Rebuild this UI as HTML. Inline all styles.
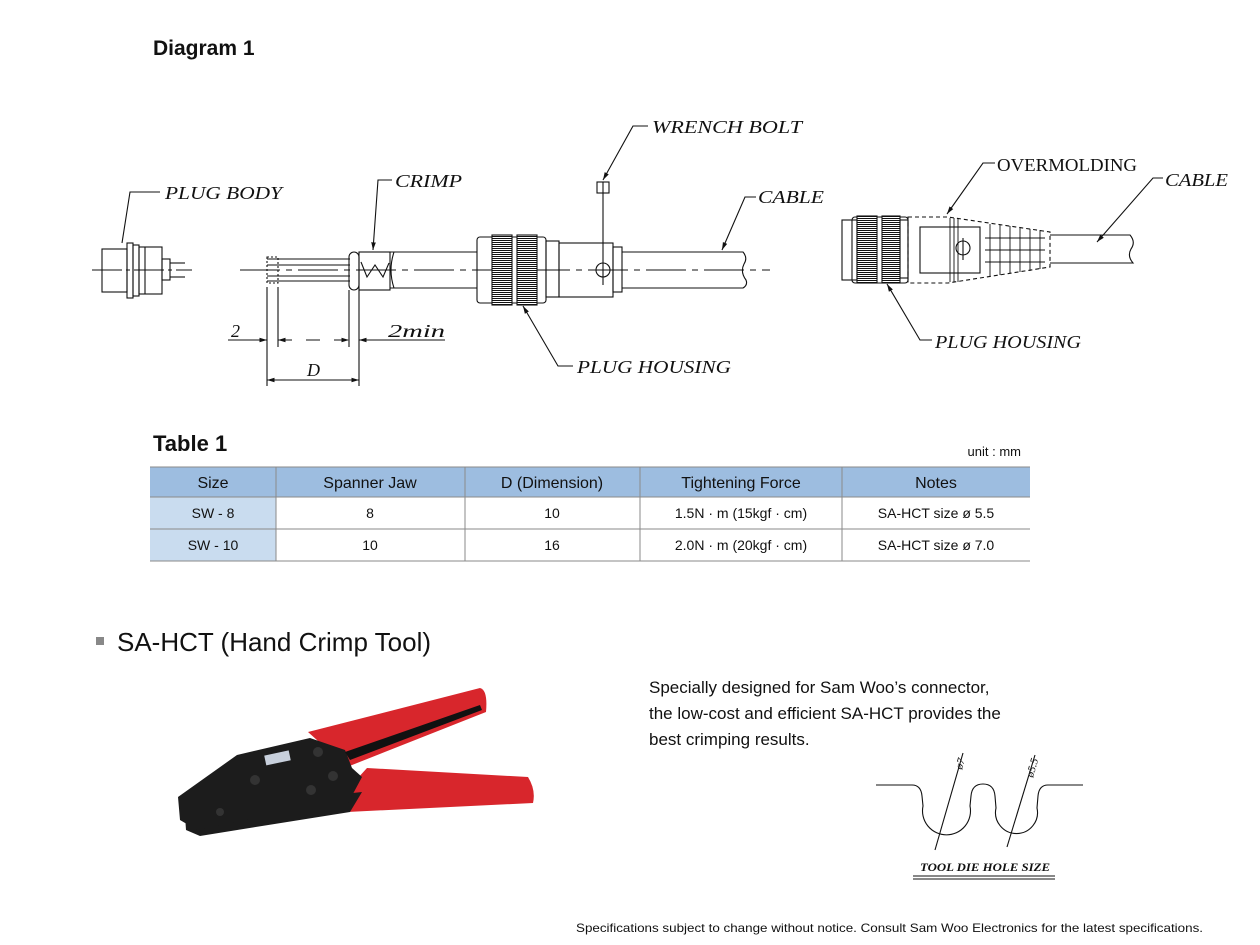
<!DOCTYPE html>
<html><head><meta charset="utf-8"><style>
html,body{margin:0;padding:0;background:#fff}
svg{display:block}
.lb{font-family:"Liberation Serif",serif;font-style:italic;font-size:18px;fill:#111}
.s{font-family:"Liberation Sans",sans-serif;fill:#111}
</style></head><body>
<svg width="1260" height="945" viewBox="0 0 1260 945" xmlns="http://www.w3.org/2000/svg">
<defs>
<marker id="ar" viewBox="0 0 10 10" refX="10" refY="5" markerWidth="7" markerHeight="7" orient="auto-start-reverse"><path d="M0,2 L10,5 L0,8z" fill="#111"/></marker>
<pattern id="kn" width="20" height="2" patternUnits="userSpaceOnUse"><rect width="20" height="2" fill="#fff"/><rect width="20" height="1" fill="#111"/></pattern>
</defs>
<text x="153" y="55" class="s" font-size="21" font-weight="bold">Diagram 1</text>

<g stroke="#111" stroke-width="1.1" fill="none">
<line x1="92" y1="270" x2="192" y2="270" stroke-dasharray="30,4,4,4"/>
<rect x="102" y="249" width="25" height="43"/>
<rect x="127" y="243" width="6" height="55"/>
<rect x="133" y="245" width="6" height="51"/>
<rect x="139" y="247" width="23" height="47"/>
<line x1="145" y1="247" x2="145" y2="294"/>
<rect x="162" y="259" width="8" height="21"/>
<line x1="170" y1="263" x2="185" y2="263"/><line x1="170" y1="277" x2="185" y2="277"/>
<polyline points="122,243 130,192 160,192"/>
<line x1="240" y1="270" x2="770" y2="270" stroke-dasharray="40,6,6,6"/>
<line x1="267" y1="259" x2="350" y2="259"/><line x1="267" y1="265" x2="350" y2="265"/><line x1="267" y1="276" x2="350" y2="276"/><line x1="267" y1="281" x2="350" y2="281"/>
<rect x="267" y="257" width="11" height="26" stroke-dasharray="2,2"/>
<rect x="349" y="252" width="10" height="38" rx="5"/>
<rect x="359" y="252" width="31" height="38"/>
<polyline points="361,262 367,277 375,265 383,277 389,263"/>
<path d="M390,252 H477 M390,288 H477 M394,252 Q388,270 394,288"/>
<rect x="477" y="237" width="69" height="66" rx="3"/>
<rect x="492" y="235" width="20" height="70" fill="url(#kn)"/>
<rect x="517" y="235" width="20" height="70" fill="url(#kn)"/>
<rect x="546" y="241" width="13" height="56"/>
<rect x="559" y="243" width="54" height="54"/>
<circle cx="603" cy="270" r="7"/>
<rect x="613" y="247" width="9" height="45"/>
<path d="M622,252 H743 Q748,258 744,264 Q740,272 746,280 Q748,285 743,288 H622"/>
<rect x="597" y="182" width="12" height="11"/><line x1="603" y1="182" x2="603" y2="193"/>
<line x1="603" y1="193" x2="603" y2="285"/>
<polyline points="603,180 633,126 648,126" marker-start="url(#ar)"/>
<polyline points="722,250 745,197 756,197" marker-start="url(#ar)"/>
<polyline points="373,250 378,180 392,180" marker-start="url(#ar)"/>
<polyline points="523,306 558,366 573,366" marker-start="url(#ar)"/>
<line x1="267" y1="287" x2="267" y2="386"/><line x1="278" y1="287" x2="278" y2="347"/>
<line x1="349" y1="290" x2="349" y2="347"/><line x1="359" y1="290" x2="359" y2="386"/>
<line x1="228" y1="340" x2="267" y2="340" marker-end="url(#ar)"/>
<line x1="278" y1="340" x2="349" y2="340" stroke-dasharray="14,14" marker-start="url(#ar)" marker-end="url(#ar)"/>
<line x1="359" y1="340" x2="445" y2="340" marker-start="url(#ar)"/>
<line x1="267" y1="380" x2="359" y2="380" marker-start="url(#ar)" marker-end="url(#ar)"/>
</g>
<text class="lb" x="165" y="199" textLength="117" lengthAdjust="spacingAndGlyphs">PLUG BODY</text>
<text class="lb" x="395" y="187" textLength="67" lengthAdjust="spacingAndGlyphs">CRIMP</text>
<text class="lb" x="652" y="133" textLength="150" lengthAdjust="spacingAndGlyphs">WRENCH BOLT</text>
<text class="lb" x="758" y="203" textLength="66" lengthAdjust="spacingAndGlyphs">CABLE</text>
<text class="lb" x="577" y="373" textLength="154" lengthAdjust="spacingAndGlyphs">PLUG HOUSING</text>
<text class="lb" x="231" y="337">2</text>
<text class="lb" x="388" y="337" textLength="57" lengthAdjust="spacingAndGlyphs">2min</text>
<text class="lb" x="307" y="376">D</text>

<g stroke="#111" stroke-width="1.1" fill="none">
<rect x="842" y="220" width="15" height="60"/>
<rect x="852" y="217" width="56" height="66" rx="3"/>
<rect x="857" y="216" width="20" height="67" fill="url(#kn)"/>
<rect x="882" y="216" width="18" height="67" fill="url(#kn)"/>
<rect x="900" y="220" width="8" height="58"/>
<path d="M908,217 H948 L1050,232 V267 L948,283 H908 Z" stroke-dasharray="4,3"/>
<rect x="920" y="227" width="60" height="46"/>
<circle cx="963" cy="248" r="7"/>
<line x1="963" y1="238" x2="963" y2="260"/>
<g stroke-width="0.9">
<line x1="950" y1="218" x2="950" y2="282"/><line x1="954" y1="218" x2="954" y2="282"/><line x1="958" y1="218" x2="958" y2="282"/>
<line x1="990" y1="224" x2="990" y2="276"/><line x1="1000" y1="225" x2="1000" y2="275"/><line x1="1010" y1="226" x2="1010" y2="273"/><line x1="1020" y1="228" x2="1020" y2="272"/><line x1="1030" y1="229" x2="1030" y2="271"/><line x1="1040" y1="230" x2="1040" y2="269"/>
<line x1="985" y1="238" x2="1045" y2="238"/><line x1="985" y1="250" x2="1045" y2="250"/><line x1="985" y1="262" x2="1045" y2="262"/>
</g>
<path d="M1050,235 H1130 Q1136,242 1131,249 Q1127,256 1133,263 H1050"/>
<polyline points="947,214 983,163 995,163" marker-start="url(#ar)"/>
<polyline points="1097,242 1153,178 1163,178" marker-start="url(#ar)"/>
<polyline points="887,284 920,340 932,340" marker-start="url(#ar)"/>
</g>
<text x="997" y="171" font-family="Liberation Serif,serif" font-size="18" fill="#111" textLength="140" lengthAdjust="spacingAndGlyphs">OVERMOLDING</text>
<text class="lb" x="1165" y="186" textLength="63" lengthAdjust="spacingAndGlyphs">CABLE</text>
<text class="lb" x="935" y="348" textLength="146" lengthAdjust="spacingAndGlyphs">PLUG HOUSING</text>

<text x="153" y="451" class="s" font-size="22" font-weight="bold">Table 1</text>
<text x="1021" y="456" class="s" font-size="13" text-anchor="end">unit : mm</text>
<rect x="150" y="467" width="880" height="30" fill="#9dbde0"/>
<rect x="150" y="497" width="126" height="64" fill="#c9dcef"/>
<g stroke="#8a8a8a" stroke-width="1">
<line x1="150" y1="467" x2="1030" y2="467"/><line x1="150" y1="497" x2="1030" y2="497"/><line x1="150" y1="529" x2="1030" y2="529"/><line x1="150" y1="561" x2="1030" y2="561"/>
<line x1="276" y1="467" x2="276" y2="561"/><line x1="465" y1="467" x2="465" y2="561"/><line x1="640" y1="467" x2="640" y2="561"/><line x1="842" y1="467" x2="842" y2="561"/>
</g>
<g class="s" font-size="16" text-anchor="middle">
<text x="213" y="488">Size</text><text x="370" y="488">Spanner Jaw</text><text x="552" y="488">D (Dimension)</text><text x="741" y="488">Tightening Force</text><text x="936" y="488">Notes</text>
</g>
<g class="s" font-size="14" text-anchor="middle">
<text x="213" y="518">SW - 8</text><text x="370" y="518">8</text><text x="552" y="518">10</text><text x="741" y="518">1.5N · m (15kgf · cm)</text><text x="936" y="518">SA-HCT size  ø 5.5</text>
<text x="213" y="550">SW - 10</text><text x="370" y="550">10</text><text x="552" y="550">16</text><text x="741" y="550">2.0N · m (20kgf · cm)</text><text x="936" y="550">SA-HCT size  ø 7.0</text>
</g>

<rect x="96" y="637" width="8" height="8" fill="#888"/>
<text x="117" y="651" class="s" font-size="26">SA-HCT (Hand Crimp Tool)</text>
<g class="s" font-size="17">
<text x="649" y="693">Specially designed for Sam Woo’s connector,</text>
<text x="649" y="719">the low-cost and efficient SA-HCT provides the</text>
<text x="649" y="745">best crimping results.</text>
</g>

<path d="M308,732 L480,688 Q488,690 486,712 L347,767 Z" fill="#d8262c"/>
<path d="M347,790 L367,768 L528,777 Q536,790 533,803 L347,812 Z" fill="#d8262c"/>
<path d="M185,815 L260,803 L362,792 L350,812 L262,826 L200,836 L186,830 Z" fill="#1c1c1c"/>
<path d="M178,797 L237,755 L310,738 L345,750 L352,768 L362,777 L347,805 L260,817 L197,830 L180,820 Z" fill="#1c1c1c"/>
<path d="M345,752 L480,705 L482,710 L350,760 Z" fill="#111"/>
<rect x="265" y="753" width="25" height="10" fill="#c8d0dc" transform="rotate(-12 277 758)"/>
<g fill="#333"><circle cx="318" cy="752" r="5"/><circle cx="255" cy="780" r="5"/><circle cx="333" cy="776" r="5"/><circle cx="311" cy="790" r="5"/><circle cx="220" cy="812" r="4"/></g>

<g stroke="#111" stroke-width="1.1" fill="none">
<path d="M876,785 H912 Q921,785 922,796 L923,806 A24,24 0 1 0 970,806 L971,796 Q972,784 983,784 Q994,784 995,796 L996,808 A21,21 0 1 0 1037,808 L1038,796 Q1039,785 1048,785 H1083"/>
<line x1="935" y1="850" x2="963" y2="753"/>
<line x1="1007" y1="847" x2="1035" y2="755"/>
<line x1="913" y1="876" x2="1055" y2="876"/><line x1="913" y1="879" x2="1055" y2="879"/>
</g>
<text x="0" y="0" font-family="Liberation Serif,serif" font-style="italic" font-size="11" fill="#111" transform="translate(962,770) rotate(-74)">ø7</text>
<text x="0" y="0" font-family="Liberation Serif,serif" font-style="italic" font-size="11" fill="#111" transform="translate(1033,778) rotate(-74)">ø5.5</text>
<text x="920" y="871" font-family="Liberation Serif,serif" font-style="italic" font-weight="bold" font-size="12" fill="#111" textLength="130" lengthAdjust="spacingAndGlyphs">TOOL DIE HOLE SIZE</text>

<text x="576" y="932" class="s" font-size="12" textLength="627" lengthAdjust="spacingAndGlyphs">Specifications subject to change without notice. Consult Sam Woo Electronics for the latest specifications.</text>
</svg>
</body></html>
